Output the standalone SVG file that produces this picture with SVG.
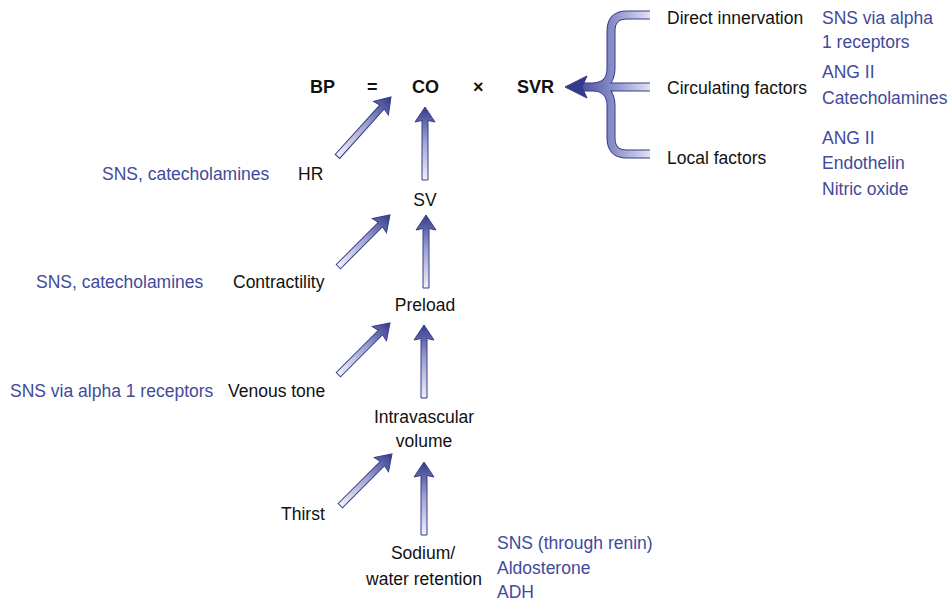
<svg xmlns="http://www.w3.org/2000/svg" width="948" height="601" viewBox="0 0 948 601">
<style>
text{font-family:"Liberation Sans",Arial,sans-serif;font-size:17.5px;fill:#111}
.b{fill:#414a9c}
.eq{font-weight:bold;font-size:18px}
.m{text-anchor:middle}
.arr{stroke:#373c88;stroke-width:1;fill:url(#ag)}
</style>
<defs>
<linearGradient id="ag" x1="0" y1="1" x2="0" y2="0">
<stop offset="0" stop-color="#f0f0f8"/>
<stop offset="0.55" stop-color="#9b9fd0"/>
<stop offset="1" stop-color="#343a8a"/>
</linearGradient>
<linearGradient id="bg" gradientUnits="userSpaceOnUse" x1="650" y1="0" x2="568" y2="0">
<stop offset="0" stop-color="#e2e2f2"/>
<stop offset="0.45" stop-color="#8a8ec8"/>
<stop offset="1" stop-color="#343a8a"/>
</linearGradient>
<path id="a73" d="M0,0 L10,15 L3,13.5 L3,73 L-3,73 L-3,13.5 L-10,15 Z"/>
<path id="a80" d="M0,0 L10,15 L3,13.5 L3,80 L-3,80 L-3,13.5 L-10,15 Z"/>
</defs>
<rect width="948" height="601" fill="#fff"/>

<g id="connectors">
<use href="#a73" class="arr" transform="translate(425,107)"/>
<use href="#a80" class="arr" transform="translate(391,97) rotate(42)"/>
<use href="#a73" class="arr" transform="translate(426,215)"/>
<use href="#a73" class="arr" transform="translate(390,215) rotate(45)"/>
<use href="#a73" class="arr" transform="translate(424,325)"/>
<use href="#a73" class="arr" transform="translate(390,323) rotate(45)"/>
<use href="#a73" class="arr" transform="translate(424,462)"/>
<use href="#a73" class="arr" transform="translate(392,454) rotate(45)"/>
<g id="brace" fill="none" stroke-linecap="butt">
<path d="M650,15 H627 Q611,15 611,31 V68 Q611,87 592,87 M650,154 H627 Q611,154 611,138 V106 Q611,87 592,87 M650,87 H580" stroke="#343a8a" stroke-width="9"/>
<path d="M650,15 H627 Q611,15 611,31 V68 Q611,87 592,87 M650,154 H627 Q611,154 611,138 V106 Q611,87 592,87 M650,87 H580" stroke="url(#bg)" stroke-width="7"/>
<path d="M565,87 L587,76 L582,87 L587,98 Z" fill="#343a8a" stroke="#343a8a" stroke-width="1"/>
</g>
</g>

<g id="equation">
<text class="eq" x="310" y="93">BP</text>
<text class="eq" x="367" y="93">=</text>
<text class="eq" x="412" y="93">CO</text>
<text class="eq" x="473" y="93">×</text>
<text class="eq" x="517" y="93">SVR</text>
</g>

<g id="direct-innervation">
<text x="667" y="24">Direct innervation</text>
<text class="b" x="822" y="24">SNS via alpha</text>
<text class="b" x="822" y="48">1 receptors</text>
</g>
<g id="circulating-factors">
<text x="667" y="94">Circulating factors</text>
<text class="b" x="822" y="78">ANG II</text>
<text class="b" x="822" y="104">Catecholamines</text>
</g>
<g id="local-factors">
<text x="667" y="164">Local factors</text>
<text class="b" x="822" y="144">ANG II</text>
<text class="b" x="822" y="169">Endothelin</text>
<text class="b" x="822" y="195">Nitric oxide</text>
</g>

<g id="hr">
<text class="b" x="102" y="180">SNS, catecholamines</text>
<text x="298" y="180">HR</text>
</g>
<g id="sv"><text class="m" x="425" y="206">SV</text></g>
<g id="contractility">
<text class="b" x="36" y="288">SNS, catecholamines</text>
<text x="233" y="288">Contractility</text>
</g>
<g id="preload"><text class="m" x="425" y="311">Preload</text></g>
<g id="venous-tone">
<text class="b" x="10" y="397">SNS via alpha 1 receptors</text>
<text x="228" y="397">Venous tone</text>
</g>
<g id="intravascular-volume">
<text class="m" x="424" y="423">Intravascular</text>
<text class="m" x="424" y="447">volume</text>
</g>
<g id="thirst"><text x="281" y="520">Thirst</text></g>
<g id="sodium-water-retention">
<text class="m" x="423" y="559">Sodium/</text>
<text class="m" x="424" y="585">water retention</text>
<text class="b" x="497" y="549">SNS (through renin)</text>
<text class="b" x="497" y="574">Aldosterone</text>
<text class="b" x="497" y="598">ADH</text>
</g>
</svg>
